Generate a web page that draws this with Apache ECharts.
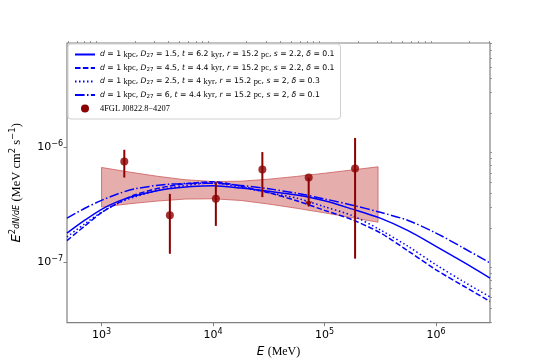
<!DOCTYPE html>
<html>
<head>
<meta charset="utf-8">
<script src="https://cdn.jsdelivr.net/npm/echarts@6/dist/echarts.min.js"></script>
<style>
html,body{margin:0;padding:0;background:#fff}
#chart{width:545px;height:363px}
</style>
</head>
<body>
<div id="chart"></div>
<script>
// model curves (E in MeV, E^2 dN/dE in MeV cm^-2 s^-1)
var curveE = [490, 708, 1000, 1410, 2000, 3980, 10000, 17800, 31600, 56200, 100000, 178000, 316000, 562000, 1000000, 1780000, 3050000];
var fluxD15 = [1.80e-7, 2.33e-7, 2.90e-7, 3.40e-7, 3.80e-7, 4.37e-7, 4.65e-7, 4.44e-7, 4.16e-7, 3.86e-7, 3.44e-7, 2.91e-7, 2.43e-7, 1.89e-7, 1.38e-7, 1.00e-7, 7.31e-8];
var fluxD45 = [1.55e-7, 2.08e-7, 2.71e-7, 3.30e-7, 3.88e-7, 4.60e-7, 5.03e-7, 4.60e-7, 4.04e-7, 3.44e-7, 2.84e-7, 2.35e-7, 1.81e-7, 1.26e-7, 8.64e-8, 6.21e-8, 4.58e-8];
var fluxD25 = [1.67e-7, 2.17e-7, 2.73e-7, 3.27e-7, 3.73e-7, 4.42e-7, 4.90e-7, 4.51e-7, 4.04e-7, 3.63e-7, 3.05e-7, 2.55e-7, 1.92e-7, 1.38e-7, 9.55e-8, 6.79e-8, 5.03e-8];
var fluxD6 = [2.43e-7, 2.96e-7, 3.47e-7, 3.96e-7, 4.37e-7, 4.79e-7, 4.88e-7, 4.67e-7, 4.37e-7, 4.00e-7, 3.57e-7, 3.15e-7, 2.73e-7, 2.32e-7, 1.80e-7, 1.33e-7, 9.9e-8];

// 4FGL butterfly
var bandE = [1000, 1780, 3160, 5620, 10000, 17800, 31600, 56200, 100000, 178000, 302000];
var bandUpper = [6.70e-7, 6.11e-7, 5.62e-7, 5.24e-7, 5.06e-7, 5.09e-7, 5.30e-7, 5.60e-7, 5.97e-7, 6.38e-7, 6.79e-7];
var bandLower = [3.03e-7, 3.24e-7, 3.42e-7, 3.56e-7, 3.58e-7, 3.46e-7, 3.22e-7, 2.96e-7, 2.70e-7, 2.45e-7, 2.24e-7];

// 4FGL flux points
var pointE = [1600, 4100, 10600, 27700, 72100, 188000];
var pointFlux = [7.56e-7, 2.58e-7, 3.58e-7, 6.44e-7, 5.48e-7, 6.57e-7];
var pointHi = [9.55e-7, 3.95e-7, 5.00e-7, 9.12e-7, 5.48e-7, 1.21e-6];
var pointLo = [5.48e-7, 1.19e-7, 2.08e-7, 3.70e-7, 3.07e-7, 1.08e-7];
var upperLimit = [false, false, false, false, true, false];

// ticks (log10)
var xMajor = [3, 4, 5, 6];
var yMajor = [-7, -6];
var xRange = [490, 3.05e6];
var yRange = [3.0e-8, 8.1e-6];

var labels = {
	m1: '{i|d} = 1 {r|kpc}, {i|D}{sub|27} = 1.5, {i|t} = 6.2 {r|kyr}, {i|r} = 15.2 {r|pc}, {i|s} = 2.2, {i|δ} = 0.1',
	m2: '{i|d} = 1 {r|kpc}, {i|D}{sub|27} = 4.5, {i|t} = 4.4 {r|kyr}, {i|r} = 15.2 {r|pc}, {i|s} = 2.2, {i|δ} = 0.1',
	m3: '{i|d} = 1 {r|kpc}, {i|D}{sub|27} = 2.5, {i|t} = 4 {r|kyr}, {i|r} = 15.2 {r|pc}, {i|s} = 2, {i|δ} = 0.3',
	m4: '{i|d} = 1 {r|kpc}, {i|D}{sub|27} = 6, {i|t} = 4.4 {r|kyr}, {i|r} = 15.2 {r|pc}, {i|s} = 2, {i|δ} = 0.1',
	fgl: '{r|4FGL J0822.8−4207}'
};

var lg = function(v){ return Math.log10(v); };
function pairs(xs, ys){
	var out = [];
	for(var i=0; i<xs.length; i++){
		out.push([lg(xs[i]), lg(ys[i])]);
	}
	return out;
}
function minorOf(lo, hi){
	var out = [];
	for(var d=lo; d<hi; d++){
		for(var k=2; k<10; k++){
			out.push(d + Math.log10(k));
		}
	}
	return out;
}
var xMinor = minorOf(2, 7);
var yMinor = minorOf(-8, -5);

function powLabel(v){
	var e = Math.round(v);
	return '{b|10}{e|' + (e < 0 ? '−' + (-e) : e) + '}';
}
var tickRich = {
	b: {fontFamily: 'DejaVu Sans', fontSize: 11, color: '#000'},
	e: {fontFamily: 'DejaVu Sans', fontSize: 8, color: '#000', padding: [0, 0, 8, 0]}
};

var axisColor = '#808080';

function renderBand(params, api){
	if(params.dataIndex !== 0) return;
	var pts = [];
	for(var i=0; i<bandE.length; i++){
		pts.push(api.coord([lg(bandE[i]), lg(bandUpper[i])]));
	}
	for(var j=bandE.length-1; j>=0; j--){
		pts.push(api.coord([lg(bandE[j]), lg(bandLower[j])]));
	}
	return {
		type: 'polygon',
		shape: {points: pts},
		style: {fill: 'rgba(205,92,92,0.5)', stroke: '#cd5c5c', lineWidth: 0.8}
	};
}

function renderErr(params, api){
	var x = api.value(0);
	var top = api.coord([x, api.value(2)]);
	var bot = api.coord([x, api.value(1)]);
	var children = [{
		type: 'line',
		shape: {x1: top[0], y1: top[1], x2: bot[0], y2: bot[1]},
		style: {stroke: '#8b0000', lineWidth: 2}
	}];
	if(api.value(3)){
		children.push({
			type: 'polygon',
			shape: {points: [[bot[0]-3.5, bot[1]-5], [bot[0]+3.5, bot[1]-5], [bot[0], bot[1]]]},
			style: {fill: '#8b0000'}
		});
	}
	return {type: 'group', children: children};
}

var errData = [];
for(var i=0; i<pointE.length; i++){
	errData.push([lg(pointE[i]), lg(pointLo[i]), lg(pointHi[i]), upperLimit[i] ? 1 : 0]);
}

var noMark = {opacity: 0};
var legendRich = {
	i: {fontFamily: 'DejaVu Sans', fontStyle: 'italic', fontSize: 7.7, lineHeight: 9},
	r: {fontFamily: 'Liberation Serif', fontSize: 8.4, lineHeight: 9},
	sub: {fontFamily: 'DejaVu Sans', fontSize: 5.5, lineHeight: 9, padding: [3, 0, 0, 0]}
};

var chart = echarts.init(document.getElementById('chart'), null, {renderer: 'canvas'});
var option = {
	animation: false,
	backgroundColor: '#fff',
	grid: {
		left: 67, right: 55, top: 43, bottom: 40,
		show: true, borderColor: axisColor, borderWidth: 1.2
	},
	legend: {
		orient: 'vertical',
		left: 68, top: 44,
		padding: [6, 6],
		itemWidth: 20, itemHeight: 8, itemGap: 4.5,
		backgroundColor: '#fff',
		borderColor: '#d0d0d0', borderWidth: 1, borderRadius: 3,
		data: [
			{name: 'm1', itemStyle: noMark},
			{name: 'm2', itemStyle: noMark},
			{name: 'm3', itemStyle: noMark},
			{name: 'm4', itemStyle: noMark},
			{name: 'fgl', icon: 'circle'}
		],
		formatter: function(n){ return labels[n]; },
		textStyle: {
			fontFamily: 'DejaVu Sans', fontSize: 7.7, lineHeight: 9, color: '#000',
			rich: legendRich
		}
	},
	xAxis: [{
		type: 'value',
		min: lg(xRange[0]), max: lg(xRange[1]),
		axisLine: {show: false},
		splitLine: {show: false},
		axisTick: {show: true, customValues: xMajor, length: 3.5, lineStyle: {color: axisColor, width: 1}},
		axisLabel: {customValues: xMajor, formatter: powLabel, rich: tickRich, margin: 5},
		name: '{i|E} {r|(MeV)}',
		nameLocation: 'middle',
		nameGap: 19,
		nameTextStyle: {
			rich: {
				i: {fontFamily: 'DejaVu Sans', fontStyle: 'italic', fontSize: 12, color: '#000'},
				r: {fontFamily: 'Liberation Serif', fontSize: 12, color: '#000'}
			}
		}
	}, {
		type: 'value',
		min: lg(xRange[0]), max: lg(xRange[1]),
		axisLine: {show: false},
		splitLine: {show: false},
		axisTick: {show: true, customValues: xMinor, length: 2, lineStyle: {color: axisColor, width: 0.8}},
		axisLabel: {show: false}
	}],
	yAxis: [{
		type: 'value',
		min: lg(yRange[0]), max: lg(yRange[1]),
		axisLine: {show: false},
		splitLine: {show: false},
		axisTick: {show: true, customValues: yMajor, length: 3.5, lineStyle: {color: axisColor, width: 1}},
		axisLabel: {customValues: yMajor, formatter: powLabel, rich: tickRich, margin: 4},
		name: '{i|E}{sup|2}{f|dN/dE} {r|(MeV cm}{sup|2}{r| s}{sup|−1}{r|)}',
		nameLocation: 'middle',
		nameRotate: 90,
		nameGap: 42,
		nameTextStyle: {
			rich: {
				i: {fontFamily: 'DejaVu Sans', fontStyle: 'italic', fontSize: 13, color: '#000'},
				sup: {fontFamily: 'DejaVu Sans', fontSize: 8.5, color: '#000', padding: [0, 0, 8, 0]},
				f: {fontFamily: 'DejaVu Sans', fontStyle: 'italic', fontSize: 8, color: '#000'},
				r: {fontFamily: 'Liberation Serif', fontSize: 12.5, color: '#000'}
			}
		}
	}, {
		type: 'value',
		min: lg(yRange[0]), max: lg(yRange[1]),
		axisLine: {show: false},
		splitLine: {show: false},
		axisTick: {show: true, customValues: yMinor, length: 2, lineStyle: {color: axisColor, width: 0.8}},
		axisLabel: {show: false}
	}],
	series: [{
		type: 'custom',
		name: 'band',
		renderItem: renderBand,
		data: [[lg(bandE[0]), lg(bandUpper[0])]],
		z: 1,
		silent: true
	}, {
		type: 'line', name: 'm1', data: pairs(curveE, fluxD15),
		symbol: 'none', smooth: 0.3, color: '#0000ff',
		lineStyle: {width: 1.5, color: '#0000ff'}, z: 3
	}, {
		type: 'line', name: 'm2', data: pairs(curveE, fluxD45),
		symbol: 'none', smooth: 0.3, color: '#0000ff',
		lineStyle: {width: 1.5, color: '#0000ff', type: [5.5, 2.4]}, z: 3
	}, {
		type: 'line', name: 'm3', data: pairs(curveE, fluxD25),
		symbol: 'none', smooth: 0.3, color: '#0000ff',
		lineStyle: {width: 1.5, color: '#0000ff', type: [1.5, 2.5]}, z: 3
	}, {
		type: 'line', name: 'm4', data: pairs(curveE, fluxD6),
		symbol: 'none', smooth: 0.3, color: '#0000ff',
		lineStyle: {width: 1.5, color: '#0000ff', type: [9.6, 2.4, 1.5, 2.4]}, z: 3
	}, {
		type: 'custom',
		name: 'fgl',
		renderItem: renderErr,
		encode: {x: 0, y: [1, 2]},
		data: errData,
		color: '#8b0000',
		z: 4
	}, {
		type: 'scatter',
		name: 'fgl',
		data: pairs(pointE, pointFlux),
		symbol: 'circle', symbolSize: 8,
		itemStyle: {color: '#8b0000'},
		z: 5
	}]
};
chart.setOption(option);
</script>
</body>
</html>
